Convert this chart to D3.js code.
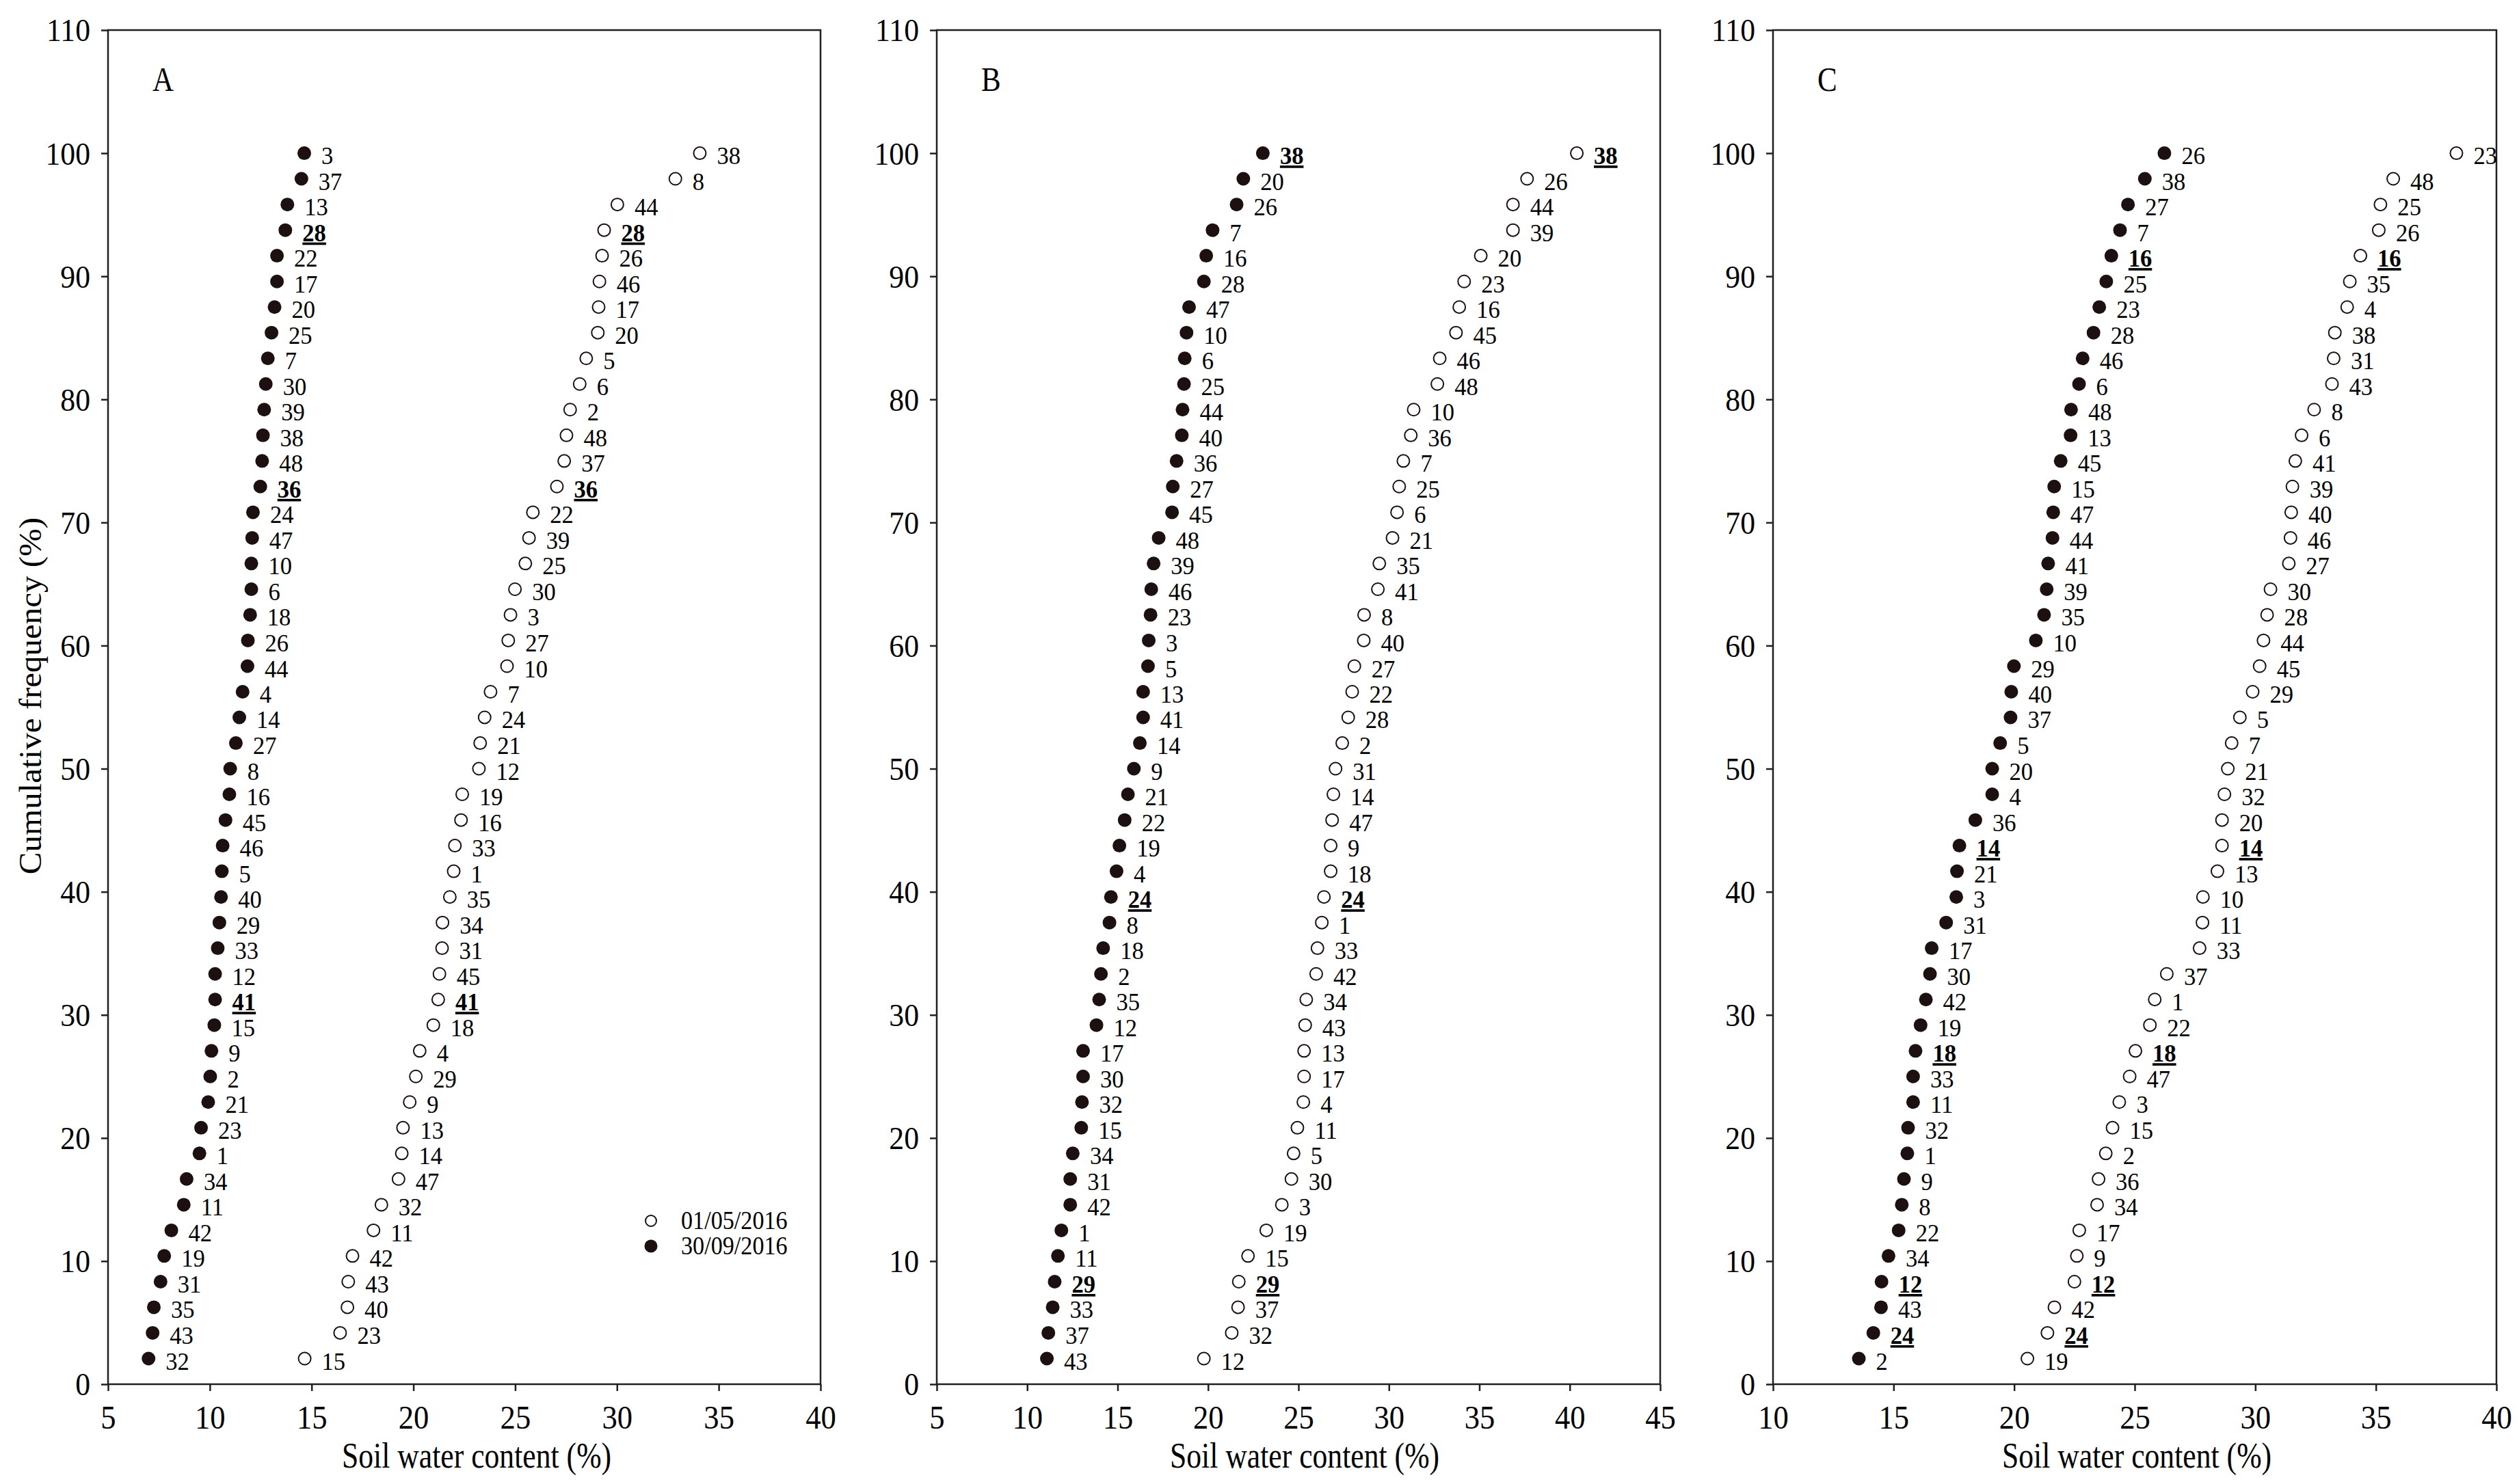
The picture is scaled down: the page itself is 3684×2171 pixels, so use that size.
<!DOCTYPE html>
<html><head><meta charset="utf-8">
<script src="https://cdn.jsdelivr.net/npm/d3@7"></script>
<style>
html,body{margin:0;padding:0;background:#fff;}
svg{display:block;}
text{font-family:"Liberation Serif","Times New Roman",serif;fill:#000;}
</style></head><body>
<svg id="chart" width="3684" height="2171"></svg>
<script>
// ---------------- DATA ----------------
const seriesNames = ["01/05/2016", "30/09/2016"];
const panelLetters = ["A", "B", "C"];
const xTitle = "Soil water content (%)";
const yTitle = "Cumulative frequency (%)";
const yTicks = [0, 10, 20, 30, 40, 50, 60, 70, 80, 90, 100, 110];
const xTicksA = [5, 10, 15, 20, 25, 30, 35, 40];
const xTicksB = [5, 10, 15, 20, 25, 30, 35, 40, 45];
const xTicksC = [10, 15, 20, 25, 30, 35, 40];

// cumulative frequency levels (%), listed from the top (rank 48) down
const cumulativeFrequency = [100, 97.92, 95.83, 93.75, 91.67, 89.58, 87.5, 85.42, 83.33, 81.25, 79.17, 77.08,
  75, 72.92, 70.83, 68.75, 66.67, 64.58, 62.5, 60.42, 58.33, 56.25, 54.17, 52.08,
  50, 47.92, 45.83, 43.75, 41.67, 39.58, 37.5, 35.42, 33.33, 31.25, 29.17, 27.08,
  25, 22.92, 20.83, 18.75, 16.67, 14.58, 12.5, 10.42, 8.33, 6.25, 4.17, 2.08];

// Panel A
const idsA_May = [38,8,44,28,26,46,17,20,5,6,2,48,37,36,22,39,25,30,3,27,10,7,24,21,12,19,16,33,1,35,34,31,45,41,18,4,29,9,13,14,47,32,11,42,43,40,23,15];
const swcA_May = [34.07,32.87,30.02,29.37,29.27,29.14,29.10,29.06,28.49,28.17,27.70,27.52,27.41,27.05,25.87,25.68,25.50,24.99,24.77,24.66,24.60,23.79,23.50,23.28,23.22,22.40,22.34,22.04,21.98,21.79,21.43,21.41,21.28,21.22,20.98,20.31,20.12,19.82,19.49,19.43,19.27,18.43,18.04,17.01,16.80,16.76,16.40,14.66];
const idsA_Sep = [3,37,13,28,22,17,20,25,7,30,39,38,48,36,24,47,10,6,18,26,44,4,14,27,8,16,45,46,5,40,29,33,12,41,15,9,2,21,23,1,34,11,42,19,31,35,43,32];
const swcA_Sep = [14.64,14.50,13.81,13.71,13.30,13.30,13.18,13.03,12.85,12.75,12.67,12.61,12.57,12.48,12.12,12.08,12.04,12.04,11.98,11.87,11.85,11.61,11.45,11.28,11.00,10.96,10.77,10.63,10.59,10.55,10.47,10.39,10.26,10.26,10.22,10.08,10.02,9.92,9.57,9.49,8.86,8.72,8.11,7.76,7.58,7.25,7.19,6.99];
const highlightA = [28, 36, 41];

// Panel B
const idsB_May = [38,26,44,39,20,23,16,45,46,48,10,36,7,25,6,21,35,41,8,40,27,22,28,2,31,14,47,9,18,24,1,33,42,34,43,13,17,4,11,5,30,3,19,15,29,37,32,12];
const swcB_May = [40.39,37.64,36.86,36.86,35.08,34.16,33.89,33.71,32.81,32.68,31.37,31.21,30.80,30.57,30.45,30.20,29.47,29.39,28.63,28.61,28.09,27.97,27.75,27.42,27.05,26.93,26.86,26.78,26.78,26.41,26.29,26.05,25.98,25.43,25.37,25.31,25.31,25.27,24.94,24.73,24.61,24.08,23.22,22.21,21.70,21.66,21.31,19.77];
const idsB_Sep = [38,20,26,7,16,28,47,10,6,25,44,40,36,27,45,48,39,46,23,3,5,13,41,14,9,21,22,19,4,24,8,18,2,35,12,17,30,32,15,34,31,42,1,11,29,33,37,43];
const swcB_Sep = [23.03,21.95,21.58,20.25,19.90,19.77,18.95,18.81,18.71,18.67,18.59,18.55,18.26,18.05,18.01,17.27,16.99,16.86,16.82,16.72,16.68,16.41,16.41,16.23,15.90,15.57,15.39,15.10,14.94,14.63,14.55,14.20,14.08,13.98,13.83,13.09,13.09,13.03,12.99,12.52,12.38,12.38,11.89,11.70,11.52,11.41,11.17,11.09];
const highlightB = [38, 24, 29];

// Panel C
const idsC_May = [23,48,25,26,16,35,4,38,31,43,8,6,41,39,40,46,27,30,28,44,45,29,5,7,21,32,20,14,13,10,11,33,37,1,22,18,47,3,15,2,36,34,17,9,12,42,24,19];
const swcC_May = [38.34,35.72,35.19,35.12,34.36,33.92,33.81,33.30,33.25,33.18,32.44,31.92,31.66,31.54,31.49,31.46,31.39,30.63,30.49,30.34,30.18,29.89,29.36,29.02,28.86,28.72,28.62,28.62,28.43,27.83,27.81,27.69,26.33,25.83,25.63,25.03,24.79,24.36,24.08,23.80,23.50,23.44,22.70,22.60,22.50,21.67,21.38,20.55];
const idsC_Sep = [26,38,27,7,16,25,23,28,46,6,48,13,45,15,47,44,41,39,35,10,29,40,37,5,20,4,36,14,21,3,31,17,30,42,19,18,33,11,32,1,9,8,22,34,12,43,24,2];
const swcC_Sep = [26.23,25.42,24.72,24.39,24.03,23.82,23.53,23.29,22.84,22.69,22.36,22.34,21.93,21.66,21.62,21.59,21.41,21.35,21.24,20.90,19.99,19.88,19.85,19.42,19.09,19.09,18.39,17.73,17.63,17.60,17.18,16.58,16.51,16.34,16.12,15.91,15.81,15.81,15.60,15.57,15.43,15.34,15.21,14.79,14.50,14.48,14.16,13.56];
const highlightC = [16, 14, 18, 12, 24];

// ---------------- LAYOUT / STYLE ----------------
const W = 3684, H = 2171;
const FONT = '"Liberation Serif","Times New Roman",serif';
const INK = "#1c1011";
const AXIS = "#231f20";
const yTop = 44, yBottom = 2025;

const panels = [
  { letter: panelLetters[0], x0: 158,  x1: 1200, domain: [5, 40],  ticks: xTicksA, titleDx: 18,
    may: { ids: idsA_May, v: swcA_May }, sep: { ids: idsA_Sep, v: swcA_Sep }, hl: highlightA, legend: true },
  { letter: panelLetters[1], x0: 1370, x1: 2428, domain: [5, 45],  ticks: xTicksB, titleDx: 9,
    may: { ids: idsB_May, v: swcB_May }, sep: { ids: idsB_Sep, v: swcB_Sep }, hl: highlightB, legend: false },
  { letter: panelLetters[2], x0: 2593, x1: 3651, domain: [10, 40], ticks: xTicksC, titleDx: 3,
    may: { ids: idsC_May, v: swcC_May }, sep: { ids: idsC_Sep, v: swcC_Sep }, hl: highlightC, legend: false }
];

const svg = d3.select("#chart");
svg.append("rect").attr("width", W).attr("height", H).attr("fill", "#fff");

const y = d3.scaleLinear().domain([0, 110]).range([yBottom, yTop]);

function squeezedText(g, x, yy, str, size, sx, opts = {}) {
  const t = g.append("text")
    .attr("transform", `translate(${x},${yy}) scale(${sx},1)`)
    .attr("font-size", size)
    .attr("font-family", FONT)
    .attr("text-anchor", opts.anchor || "start")
    .text(str);
  if (opts.bold) t.attr("font-weight", "bold");
  if (opts.underline) t.style("text-decoration", "underline");
  return t;
}

panels.forEach(p => {
  const g = svg.append("g");
  const x = d3.scaleLinear().domain(p.domain).range([p.x0, p.x1]);

  // frame
  g.append("rect")
    .attr("x", p.x0).attr("y", yTop)
    .attr("width", p.x1 - p.x0).attr("height", yBottom - yTop)
    .attr("fill", "none").attr("stroke", AXIS).attr("stroke-width", 2.5);

  // y axis
  const ya = g.append("g").attr("transform", `translate(${p.x0},0)`)
    .call(d3.axisLeft(y).tickValues(yTicks).tickSize(10).tickPadding(16).tickFormat(d3.format("d")));
  ya.select(".domain").remove();
  ya.selectAll(".tick line").attr("stroke", AXIS).attr("stroke-width", 2.5);
  ya.selectAll(".tick text")
    .attr("font-size", 47).attr("font-family", FONT).attr("fill", "#000")
    .attr("x", 0).attr("dy", "0.34em")
    .attr("transform", `translate(-26,0) scale(0.93,1)`);

  // x axis
  const xa = g.append("g").attr("transform", `translate(0,${yBottom})`)
    .call(d3.axisBottom(x).tickValues(p.ticks).tickSize(10).tickPadding(21).tickFormat(d3.format("d")));
  xa.select(".domain").remove();
  xa.selectAll(".tick line").attr("stroke", AXIS).attr("stroke-width", 2.5);
  xa.selectAll(".tick text")
    .attr("font-size", 48).attr("font-family", FONT).attr("fill", "#000")
    .attr("transform", `scale(0.93,1)`);

  // x title
  squeezedText(g, (p.x0 + p.x1) / 2 + p.titleDx, 2147, xTitle, 52, 0.84, { anchor: "middle" });

  // panel letter
  squeezedText(g, p.x0 + 65, 133, p.letter, 50, 0.86);

  // points: 01/05/2016 open, 30/09/2016 filled
  const may = p.may.ids.map((id, i) => ({ id, v: p.may.v[i], f: cumulativeFrequency[i] }));
  const sep = p.sep.ids.map((id, i) => ({ id, v: p.sep.v[i], f: cumulativeFrequency[i] }));

  g.append("g").selectAll("circle").data(may).join("circle")
    .attr("cx", d => x(d.v)).attr("cy", d => y(d.f)).attr("r", 9)
    .attr("fill", "#fff").attr("stroke", INK).attr("stroke-width", 2);
  g.append("g").selectAll("circle").data(sep).join("circle")
    .attr("cx", d => x(d.v)).attr("cy", d => y(d.f)).attr("r", 10)
    .attr("fill", INK);

  const lab = g.append("g");
  [...may, ...sep].forEach(d => {
    const hl = p.hl.includes(d.id);
    squeezedText(lab, x(d.v) + 25, y(d.f) + 16, String(d.id), 36, 0.96, { bold: hl, underline: hl });
  });

  // legend (panel A only)
  if (p.legend) {
    const lg = g.append("g");
    lg.append("circle").attr("cx", 952).attr("cy", 1786).attr("r", 8)
      .attr("fill", "#fff").attr("stroke", INK).attr("stroke-width", 2);
    lg.append("circle").attr("cx", 952).attr("cy", 1823).attr("r", 9.5).attr("fill", INK);
    squeezedText(lg, 996, 1798, seriesNames[0], 38, 0.9);
    squeezedText(lg, 996, 1835, seriesNames[1], 38, 0.9);
  }
});

// y title
svg.append("text")
  .attr("transform", `translate(60,1018) rotate(-90) scale(1,0.93)`)
  .attr("font-size", 49).attr("font-family", FONT)
  .attr("text-anchor", "middle")
  .text(yTitle);
</script>
</body></html>
